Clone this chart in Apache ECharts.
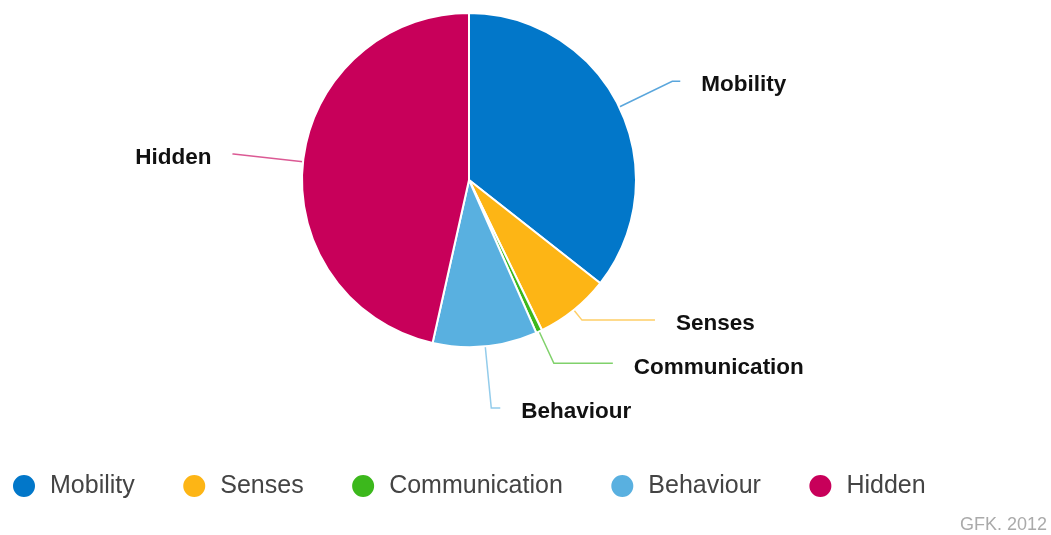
<!DOCTYPE html>
<html>
<head>
<meta charset="utf-8">
<script src="https://cdn.jsdelivr.net/npm/echarts@6/dist/echarts.min.js"></script>
<style>
html,body{margin:0;padding:0;background:#fff;}
#chart{width:1051px;height:535px;}
</style>
</head>
<body>
<div id="chart"></div>
<script>
// Data
var categories = ['Mobility', 'Senses', 'Communication', 'Behaviour', 'Hidden'];
var values = [35.6, 7.2, 0.6, 10.1, 46.5];
var colors = ['#0277c9', '#fdb515', '#3cb81c', '#59b0e0', '#c8005a'];
var sourceNote = 'GFK. 2012';

// Label line geometry (layout only)
var lineLength1 = [59, 13, 35, 62, 70];
var lineLength2 = [8, 73, 59, 9, 1];

var chart = echarts.init(document.getElementById('chart'));
var seriesData = categories.map(function (name, i) {
  return {
    name: name,
    value: values[i],
    itemStyle: { color: colors[i] },
    labelLine: { length: lineLength1[i], length2: lineLength2[i] }
  };
});

chart.setOption({
  animation: false,
  backgroundColor: '#ffffff',
  legend: {
    orient: 'horizontal',
    left: 6,
    top: 468,
    icon: 'circle',
    itemWidth: 24,
    itemHeight: 24,
    itemGap: 46.5,
    textStyle: {
      fontFamily: 'Liberation Sans, Arial, sans-serif',
      fontSize: 25,
      color: '#444444',
      padding: [0, 0, 0, 9]
    },
    data: categories
  },
  graphic: [{
    type: 'text',
    right: 4,
    top: 516,
    style: {
      text: sourceNote,
      font: '18px "Liberation Sans", Arial, sans-serif',
      fill: '#aaaaaa'
    }
  }],
  series: [{
    type: 'pie',
    center: [469, 180],
    radius: 167,
    startAngle: 90,
    clockwise: true,
    avoidLabelOverlap: false,
    itemStyle: { borderColor: '#ffffff', borderWidth: 2 },
    label: {
      show: true,
      position: 'outside',
      formatter: '{b}',
      fontFamily: 'Liberation Sans, Arial, sans-serif',
      fontSize: 22.5,
      fontWeight: 'bold',
      color: '#111111',
      distanceToLabelLine: 21
    },
    labelLayout: function () {
      return { dy: 4 };
    },
    labelLine: {
      show: true,
      smooth: false,
      lineStyle: { width: 1.5, opacity: 0.65 }
    },
    emphasis: { disabled: true },
    data: seriesData
  }]
});
</script>
</body>
</html>
